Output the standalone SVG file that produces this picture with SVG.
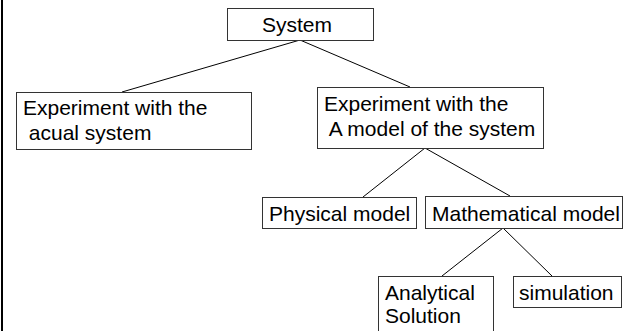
<svg xmlns="http://www.w3.org/2000/svg" width="626" height="331" viewBox="0 0 626 331">
<style>
  .box { fill: #ffffff; stroke: #333333; stroke-width: 1; }
  .lbl { font-family: "Liberation Sans", Arial, sans-serif; font-size: 21px; fill: #000000; }
  .conn { stroke: #000000; stroke-width: 1; fill: none; }
</style>
<rect x="0" y="0" width="626" height="331" fill="#ffffff"/>
<rect x="1" y="0" width="2" height="331" fill="#000000"/>
<g id="connectors">
  <line class="conn" x1="300" y1="40" x2="122" y2="92"/>
  <line class="conn" x1="300" y1="40" x2="410" y2="87"/>
  <line class="conn" x1="425" y1="148" x2="363" y2="197"/>
  <line class="conn" x1="425" y1="148" x2="510" y2="196"/>
  <line class="conn" x1="503" y1="228" x2="442" y2="276"/>
  <line class="conn" x1="503" y1="228" x2="552" y2="276"/>
</g>
<g id="system">
  <rect class="box" x="227.5" y="8.5" width="146" height="32"/>
  <text class="lbl" x="262" y="32">System</text>
</g>
<g id="actual">
  <rect class="box" x="16.5" y="92.5" width="235" height="57"/>
  <text class="lbl" x="23" y="115">Experiment with the</text>
  <text class="lbl" x="23" y="140" xml:space="preserve"> acual system</text>
</g>
<g id="model">
  <rect class="box" x="317.5" y="87.5" width="226" height="61"/>
  <text class="lbl" x="324" y="111">Experiment with the</text>
  <text class="lbl" x="324" y="136" xml:space="preserve"> A model of the system</text>
</g>
<g id="physical">
  <rect class="box" x="262.5" y="197.5" width="154" height="31"/>
  <text class="lbl" x="269" y="221">Physical model</text>
</g>
<g id="mathematical">
  <rect class="box" x="425.5" y="196.5" width="197" height="32"/>
  <text class="lbl" x="432" y="221">Mathematical model</text>
</g>
<g id="analytical">
  <rect class="box" x="378.5" y="276.5" width="115" height="70"/>
  <text class="lbl" x="385" y="300">Analytical</text>
  <text class="lbl" x="385" y="323">Solution</text>
</g>
<g id="simulation">
  <rect class="box" x="513.5" y="276.5" width="108" height="31"/>
  <text class="lbl" x="519" y="300">simulation</text>
</g>
</svg>
